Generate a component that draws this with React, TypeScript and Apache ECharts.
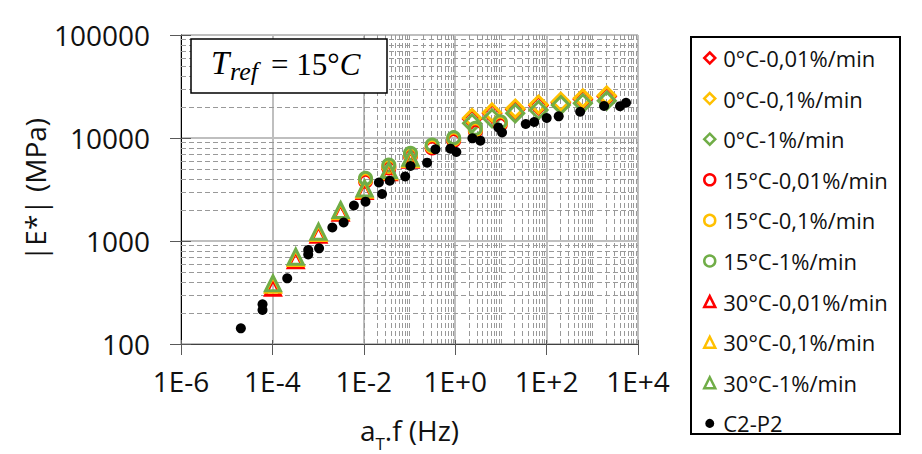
import React, { useEffect, useRef } from 'react';
import * as echarts from 'echarts';

// ---- data ----
const freq0C = [2.34, 6.4, 20.6, 66.5, 205, 621, 2075];
const e0C_001 = [15300, 17300, 18900, 20700, 22000, 23800, 25300];
const e0C_01 = [15640, 17690, 19330, 21140, 22500, 24280, 25870];
const e0C_1 = [13890, 15540, 17370, 18700, 20900, 21730, 23030];

const freq15C = [0.0109, 0.0353, 0.105, 0.313, 0.927, 2.76, 9.7];
const e15C_001 = [3800, 5120, 6650, 8010, 9440, 11640, 13500];
const e15C_01 = [3930, 5290, 6880, 8280, 9760, 12030, 13950];
const e15C_1 = [4061, 5470, 7102, 8549, 10070, 12420, 14390];

const freq30C = [1.03e-4, 3.24e-4, 1.02e-3, 3.11e-3, 0.0104, 0.0353, 0.105];
const e30C_001 = [352, 650, 1150, 1880, 3060, 4650, 6150];
const e30C_01 = [375, 682, 1195, 1940, 3140, 4760, 6250];
const e30C_1 = [388, 704, 1231, 2000, 3234, 4891, 6425];

const freqC2P2 = [
  2.04e-5, 6.08e-5, 6.08e-5, 2.11e-4, 6.08e-4, 6.08e-4, 1.05e-3, 2.05e-3, 3.62e-3, 6.08e-3,
  0.0109, 0.0214, 0.0251, 0.037, 0.0805, 0.105, 0.243, 0.37, 0.785, 1.06,
  2.38, 3.55, 8.78, 10.6, 35.0, 53.6, 100.5, 184, 542, 1811, 4046, 5470,
];
const eC2P2 = [
  142, 243, 214, 434, 818, 739, 849, 1352, 1513, 2211,
  2408, 3698, 2860, 3849, 4227, 5349, 5757, 7768, 7873, 7311,
  9934, 9414, 12640, 11300, 13680, 14290, 15640, 16240, 18000, 20460, 20370, 22000,
];

const seriesNames = [
  '0°C-0,01%/min', '0°C-0,1%/min', '0°C-1%/min',
  '15°C-0,01%/min', '15°C-0,1%/min', '15°C-1%/min',
  '30°C-0,01%/min', '30°C-0,1%/min', '30°C-1%/min',
  'C2-P2',
];

const xTickValues = [1e-6, 1e-4, 1e-2, 1e0, 1e2, 1e4];
const xTickLabels = ['1E-6', '1E-4', '1E-2', '1E+0', '1E+2', '1E+4'];
const yTickValues = [100, 1000, 10000, 100000];
const yTickLabels = ['100', '1000', '10000', '100000'];

const RED = '#FF0000';
const ORANGE = '#FFC000';
const GREEN = '#70AD47';
const FONT = 'Open Sans';
const TXT = '#111111';

function findLabel(values: number[], labels: string[], v: number): string {
  const lv = Math.log10(v);
  for (let i = 0; i < values.length; i++) {
    if (Math.abs(Math.log10(values[i]) - lv) < 1e-6) return labels[i];
  }
  return '';
}

export default function App() {
  const ref = useRef<HTMLDivElement>(null);

  useEffect(() => {
    if (!ref.current) return;
    const chart = echarts.init(ref.current, null, { renderer: 'svg' });

    const minorX: number[] = [];
    for (let d = -6; d < 4; d++) {
      for (let m = 1; m <= 9; m++) {
        if (m === 1 && d % 2 === 0) continue;
        minorX.push(m * Math.pow(10, d));
      }
    }
    const minorY: number[] = [];
    for (let d = 2; d < 5; d++) {
      for (let m = 2; m <= 9; m++) minorY.push(m * Math.pow(10, d));
    }

    const hollow = (name: string, xs: number[], ys: number[], symbol: string, color: string, size: number, bw: number) => ({
      type: 'scatter',
      name,
      symbol,
      symbolSize: size,
      data: xs.map((x, i) => [x, ys[i]]),
      itemStyle: { color: 'rgba(255,255,255,0)', borderColor: color, borderWidth: bw, opacity: 1 },
      z: 3,
      silent: true,
    });

    const colors = [RED, ORANGE, GREEN];
    const icons = ['diamond', 'diamond', 'diamond', 'circle', 'circle', 'circle', 'triangle', 'triangle', 'triangle'];

    const legendData: any[] = seriesNames.slice(0, 9).map((n, i) => ({
      name: n,
      icon: icons[i],
      itemStyle: { color: 'rgba(255,255,255,0)', borderColor: colors[i % 3], borderWidth: 2.5 },
    }));
    legendData.push({ name: 'C2-P2', icon: 'circle', itemStyle: { color: '#000', borderColor: '#fff', borderWidth: 2 } });

    const axisText = { fontFamily: FONT, fontSize: 28, color: TXT };

    const option: any = {
      animation: false,
      backgroundColor: '#ffffff',
      grid: { left: 181, top: 35, width: 457, height: 309, outerBoundsMode: 'none', containLabel: false },
      legend: {
        orient: 'vertical',
        left: 703,
        top: 47,
        padding: 0,
        itemGap: 18.6,
        itemWidth: 11,
        itemHeight: 11,
        selectedMode: false,
        textStyle: { fontFamily: FONT, fontSize: 22, color: TXT, padding: [0, 0, 0, 3] },
        data: legendData,
      },
      xAxis: [
        {
          type: 'log',
          logBase: 10,
          min: 1e-6,
          max: 1e4,
          interval: 2,
          axisLine: { show: true, onZero: false, lineStyle: { color: '#404040', width: 1 } },
          axisTick: { show: true, length: 11, lineStyle: { color: '#595959', width: 1 } },
          axisLabel: {
            ...axisText,
            margin: 23,
            formatter: (v: number) => findLabel(xTickValues, xTickLabels, v),
          },
          splitLine: { show: true, lineStyle: { color: '#bfbfbf', width: 2 } },
          name: '{a|a}{t|T}{a|.f (Hz)}',
          nameLocation: 'middle',
          nameGap: 72,
          nameTextStyle: {
            rich: {
              a: { fontFamily: FONT, fontSize: 28, color: TXT, verticalAlign: 'bottom', lineHeight: 36, padding: [0, 0, 8, 0] },
              t: { fontFamily: FONT, fontSize: 17, color: TXT, verticalAlign: 'bottom', lineHeight: 18 },
            },
          },
        },
        {
          type: 'log',
          logBase: 10,
          min: 1e-6,
          max: 1e4,
          interval: 2,
          position: 'bottom',
          axisLine: { show: false, onZero: false },
          axisTick: { show: true, inside: true, length: 4, lineStyle: { color: '#595959', width: 1 } },
          axisLabel: { show: false },
          splitLine: { show: false },
        },
      ],
      yAxis: [
        {
          type: 'log',
          logBase: 10,
          min: 100,
          max: 100000,
          interval: 1,
          axisLine: { show: true, onZero: false, lineStyle: { color: '#000000', width: 1 } },
          axisTick: { show: true, length: 11, lineStyle: { color: '#595959', width: 1 } },
          axisLabel: {
            ...axisText,
            margin: 31,
            formatter: (v: number) => findLabel(yTickValues, yTickLabels, v),
          },
          splitLine: { show: true, lineStyle: { color: '#bfbfbf', width: 2 } },
          name: '|E*| (MPa)',
          nameLocation: 'middle',
          nameGap: 132,
          nameRotate: 90,
          nameTextStyle: { fontFamily: FONT, fontSize: 28, color: TXT },
        },
        {
          type: 'log',
          logBase: 10,
          min: 100,
          max: 100000,
          interval: 1,
          position: 'left',
          axisLine: { show: false, onZero: false },
          axisTick: { show: true, inside: true, length: 10, lineStyle: { color: '#595959', width: 1 } },
          axisLabel: { show: false },
          splitLine: { show: false },
        },
      ],
      series: [
        {
          type: 'scatter',
          name: '__grid',
          data: [],
          silent: true,
          z: 1,
          markLine: {
            silent: true,
            z: 1,
            animation: false,
            symbol: ['none', 'none'],
            label: { show: false },
            emphasis: { disabled: true },
            lineStyle: { type: [5, 3], color: '#999999', width: 1 },
            data: [...minorX.map((v) => ({ xAxis: v })), ...minorY.map((v) => ({ yAxis: v }))],
          },
        },
        hollow(seriesNames[0], freq0C, e0C_001, 'diamond', RED, 17, 3),
        hollow(seriesNames[1], freq0C, e0C_01, 'diamond', ORANGE, 17, 3),
        hollow(seriesNames[2], freq0C, e0C_1, 'diamond', GREEN, 17, 3),
        hollow(seriesNames[3], freq15C, e15C_001, 'circle', RED, 12, 3),
        hollow(seriesNames[4], freq15C, e15C_01, 'circle', ORANGE, 12, 3),
        hollow(seriesNames[5], freq15C, e15C_1, 'circle', GREEN, 12, 3),
        hollow(seriesNames[6], freq30C, e30C_001, 'triangle', RED, 15, 3),
        hollow(seriesNames[7], freq30C, e30C_01, 'triangle', ORANGE, 15, 3),
        hollow(seriesNames[8], freq30C, e30C_1, 'triangle', GREEN, 15, 3),
        {
          type: 'scatter',
          name: seriesNames[9],
          symbol: 'circle',
          symbolSize: 10,
          data: freqC2P2.map((x, i) => [x, eC2P2[i]]),
          itemStyle: { color: '#000000', opacity: 1 },
          z: 4,
          silent: true,
        },
      ],
      graphic: [
        {
          type: 'rect',
          z: 10,
          shape: { x: 691, y: 37, width: 209, height: 397 },
          style: { fill: 'rgba(255,255,255,0)', stroke: '#000', lineWidth: 2 },
        },
        {
          type: 'rect',
          z: 10,
          shape: { x: 191, y: 39, width: 196, height: 54 },
          style: { fill: '#ffffff', stroke: '#000', lineWidth: 1.5 },
        },
        {
          type: 'text',
          z: 11,
          x: 211,
          y: 63,
          style: { text: 'T', font: 'italic 33px "Liberation Serif"', fill: '#000', verticalAlign: 'middle', align: 'left' },
        },
        {
          type: 'text',
          z: 11,
          x: 230,
          y: 71,
          style: { text: 'ref', font: 'italic 26px "Liberation Serif"', fill: '#000', verticalAlign: 'middle', align: 'left' },
        },
        {
          type: 'text',
          z: 11,
          x: 271,
          y: 64,
          style: {
            text: '{n|= 15°}{i|C}',
            verticalAlign: 'middle',
            align: 'left',
            rich: {
              n: { fontFamily: 'Liberation Serif', fontSize: 31, color: '#000' },
              i: { fontFamily: 'Liberation Serif', fontSize: 31, fontStyle: 'italic', color: '#000' },
            },
          },
        },
      ],
    };

    chart.setOption(option);
    return () => chart.dispose();
  }, []);

  return <div ref={ref} style={{ position: 'fixed', left: 0, top: 0, width: 922, height: 454 }} />;
}
